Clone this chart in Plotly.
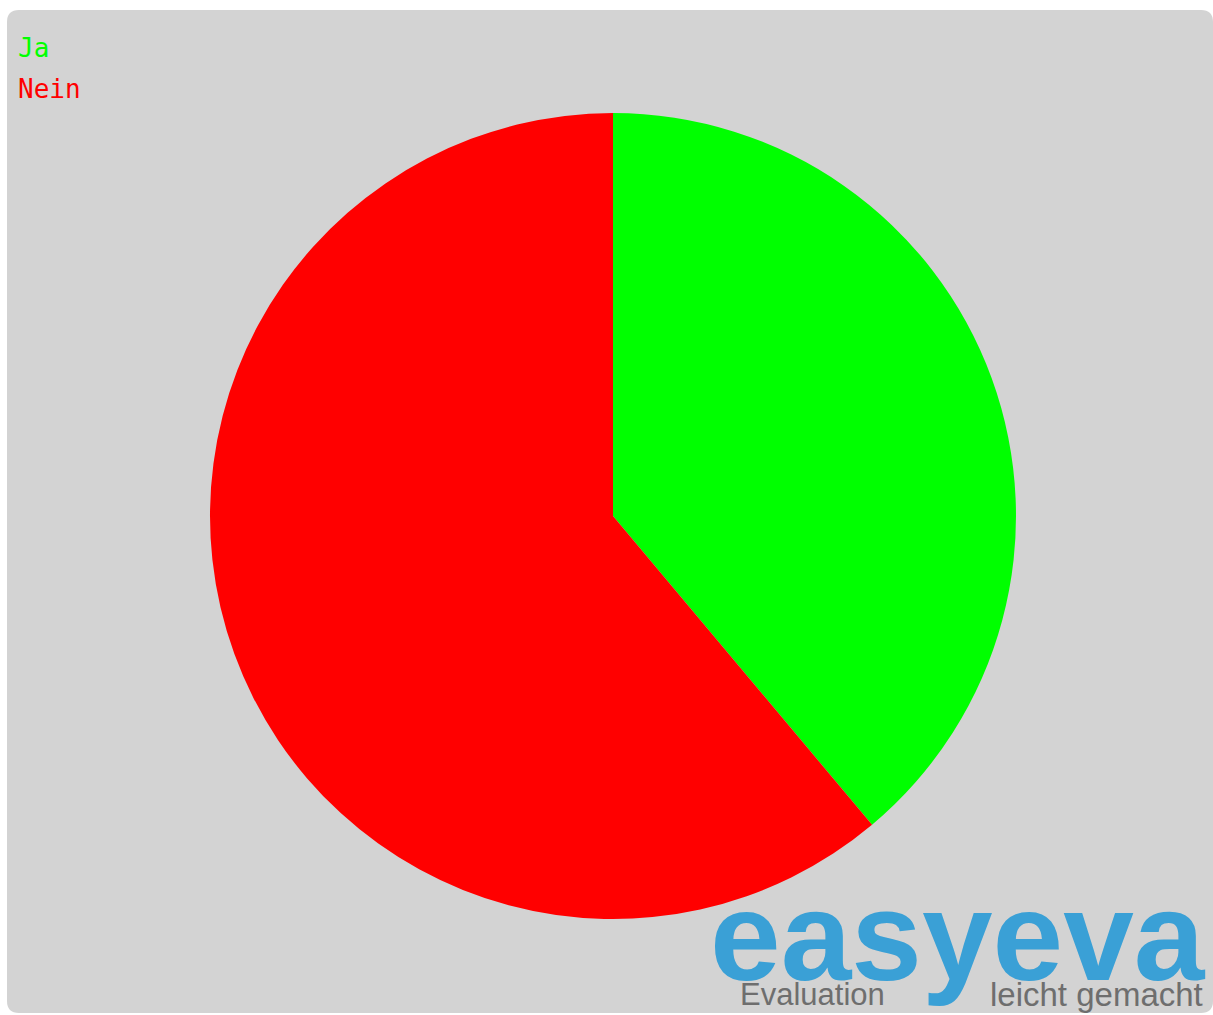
import plotly.graph_objects as go

labels = ["Ja", "Nein"]
values = [7, 11]
colors = ["#00ff00", "#ff0000"]

W, H = 1213, 1015

def px(x):
    return x / W

def py(y):
    return 1 - y / H

cx, cy, r = 613, 516, 403

fig = go.Figure(go.Pie(
    labels=labels, values=values, sort=False, direction="clockwise", rotation=0,
    marker=dict(colors=colors, line=dict(width=0)), textinfo="none",
    domain=dict(x=[px(cx - r), px(cx + r)], y=[py(cy + r), py(cy - r)]),
    hoverinfo="label+value+percent",
))

# rounded gray background
x0, x1, y0, y1, rad = 7, 1213, 10, 1013, 12
def P(x, y):
    return f"{px(x):.5f},{py(y):.5f}"
path = (f"M {P(x0+rad, y0)} L {P(x1-rad, y0)} Q {P(x1, y0)} {P(x1, y0+rad)} "
        f"L {P(x1, y1-rad)} Q {P(x1, y1)} {P(x1-rad, y1)} "
        f"L {P(x0+rad, y1)} Q {P(x0, y1)} {P(x0, y1-rad)} "
        f"L {P(x0, y0+rad)} Q {P(x0, y0)} {P(x0+rad, y0)} Z")
fig.add_shape(type="path", path=path, xref="paper", yref="paper",
              fillcolor="#d3d3d3", line=dict(width=0), layer="below")

annotations = []
for i, (lab, col) in enumerate(zip(labels, colors)):
    annotations.append(dict(
        text=lab, x=px(16), y=py(48 + i * 41), xref="paper", yref="paper",
        xanchor="left", yanchor="middle", showarrow=False,
        font=dict(family="DejaVu Sans Mono", size=26, color=col)))

annotations.append(dict(text="<b>easyeva</b>", x=px(1208), y=py(936), xref="paper", yref="paper",
                        xanchor="right", yanchor="middle", showarrow=False,
                        font=dict(family="Liberation Sans", size=127, color="#3aa0d6")))
annotations.append(dict(text="Evaluation", x=px(738), y=py(994), xref="paper", yref="paper",
                        xanchor="left", yanchor="middle", showarrow=False,
                        font=dict(family="Liberation Sans", size=31, color="#6e6e6e")))
annotations.append(dict(text="leicht gemacht", x=px(1205), y=py(994), xref="paper", yref="paper",
                        xanchor="right", yanchor="middle", showarrow=False,
                        font=dict(family="Liberation Sans", size=33, color="#6e6e6e")))

fig.update_layout(
    width=W, height=H, margin=dict(l=0, r=0, t=0, b=0),
    paper_bgcolor="white", plot_bgcolor="white", showlegend=False,
    annotations=annotations,
)

fig.write_html("out.html", config={"displayModeBar": False},
               post_script="document.body.style.margin='0';document.body.style.overflow='hidden';")
